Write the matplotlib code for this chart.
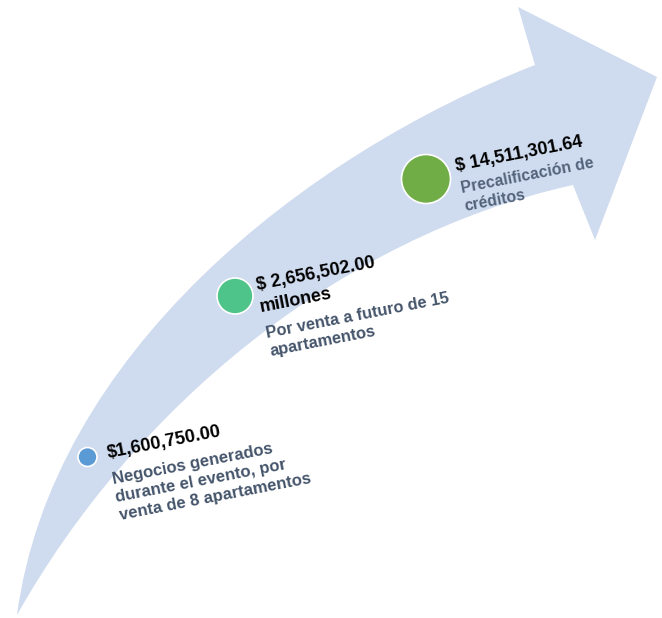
import numpy as np
import matplotlib
matplotlib.use("Agg")
import matplotlib.pyplot as plt
from matplotlib.path import Path
from matplotlib.patches import PathPatch, Circle

# Datos del gráfico
montos = ["$1,600,750.00", "$ 2,656,502.00\nmillones", "$ 14,511,301.64"]
descripciones = [
    "Negocios generados\ndurante el evento, por\nventa de 8 apartamentos",
    "Por venta a futuro de 15\napartamentos",
    "Precalificación de\ncréditos",
]
colores_punto = ["#5B9BD5", "#4EC48B", "#70AD47"]

# Disposición (pixeles de la imagen, y hacia abajo)
centros = [(87.5, 457), (235, 296), (426, 179)]
radios = [9.5, 18, 24.5]
pos_monto = [(108, 458), (257, 290), (456, 171)]
pos_desc = [(113, 484), (267, 338), (462, 193)]
tam_desc = [12, 11.8, 11.4]
col_desc = ["#44546A", "#44546A", "#53637A"]
ANGULO = 11

COLOR_FLECHA = "#CFDBEE"
W, H = 662, 618


def bezier_por_puntos(p0, q1, q2, p3):
    """Puntos de control de una Bezier cubica que pasa por q1 (t=1/3) y q2 (t=2/3)"""
    p0, q1, q2, p3 = map(np.asarray, (p0, q1, q2, p3))
    r1 = 27 * q1 - 8 * p0 - p3
    r2 = 27 * q2 - p0 - 8 * p3
    c1 = (2 * r1 - r2) / 18
    c2 = (2 * r2 - r1) / 18
    return c1, c2


def flecha_path():
    cola = (17, 615)
    muesca_sup = (535, 65)
    muesca_inf = (573, 185)
    punta_sup = (518, 7)
    punta = (657, 77)
    punta_inf = (595, 240)

    a1, a2 = bezier_por_puntos(cola, (115, 377), (305, 190), muesca_sup)
    b1, b2 = bezier_por_puntos(cola, (160, 424), (350, 274), muesca_inf)

    verts = [cola, tuple(a1), tuple(a2), muesca_sup,
             punta_sup, punta, punta_inf, muesca_inf,
             tuple(b2), tuple(b1), cola, cola]
    codes = [Path.MOVETO, Path.CURVE4, Path.CURVE4, Path.CURVE4,
             Path.LINETO, Path.LINETO, Path.LINETO, Path.LINETO,
             Path.CURVE4, Path.CURVE4, Path.CURVE4, Path.CLOSEPOLY]
    return Path(verts, codes)


def texto_girado(ax, xy, texto, paso, **kw):
    """Escribe cada linea por separado, desplazada en perpendicular al texto"""
    ang = np.radians(ANGULO)
    dx, dy = np.sin(ang) * paso, np.cos(ang) * paso
    for k, linea in enumerate(texto.split("\n")):
        ax.text(xy[0] + k * dx, xy[1] + k * dy, linea, rotation=ANGULO,
                rotation_mode="anchor", ha="left", va="baseline",
                fontweight="bold", family="Liberation Sans", zorder=4, **kw)


fig = plt.figure(figsize=(W / 100, H / 100), dpi=100)
ax = fig.add_axes([0, 0, 1, 1])
ax.set_xlim(0, W)
ax.set_ylim(H, 0)
ax.axis("off")

ax.add_patch(PathPatch(flecha_path(), facecolor=COLOR_FLECHA,
                       edgecolor="none", zorder=1))

for i in range(len(montos)):
    ax.add_patch(Circle(centros[i], radios[i], facecolor=colores_punto[i],
                        edgecolor="white", linewidth=1.2, zorder=3))
    texto_girado(ax, pos_monto[i], montos[i], 22, fontsize=13, color="black")
    texto_girado(ax, pos_desc[i], descripciones[i], 18.5,
                 fontsize=tam_desc[i], color=col_desc[i])

fig.savefig("out.png", dpi=100, facecolor="white")
plt.close(fig)
